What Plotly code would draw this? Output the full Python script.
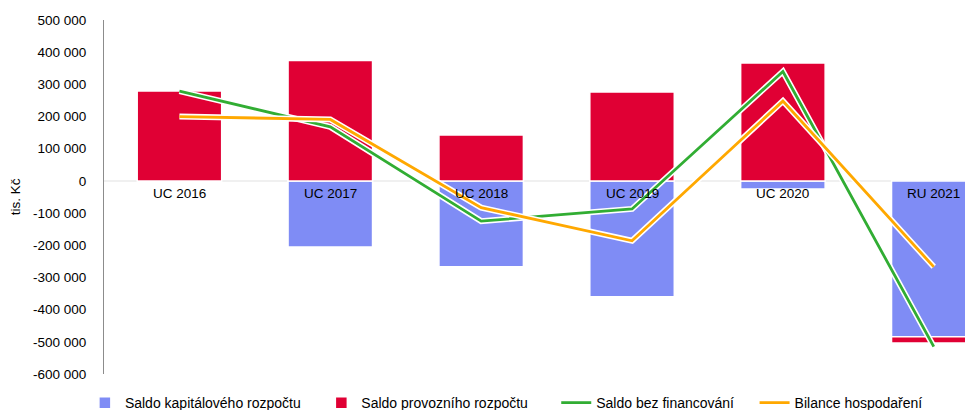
import plotly.graph_objects as go

# hodnoty v tis. Kč
roky = ["UC 2016", "UC 2017", "UC 2018", "UC 2019", "UC 2020", "RU 2021"]
saldo_kapitalove = [0, -205000, -267000, -360000, -25000, -484000]
saldo_provozni = [279000, 374000, 143000, 276000, 366000, -20000]
saldo_bez_fin = [279000, 168000, -125000, -87000, 340000, -515000]
bilance = [200000, 191000, -83000, -186000, 248000, -267000]

y_ticks = [500000, 400000, 300000, 200000, 100000, 0, -100000, -200000,
           -300000, -400000, -500000, -600000]
y_labels = ["500 000", "400 000", "300 000", "200 000", "100 000", "0",
            "-100 000", "-200 000", "-300 000", "-400 000", "-500 000", "-600 000"]

MODRA = "#7f8cf5"
CERVENA = "#e00034"
ZELENA = "#31ad33"
ORANZOVA = "#ffa800"
PAD = "\u00a0" * 4  # trochu místa mezi položkami legendy

fig = go.Figure()

fig.add_trace(go.Bar(x=roky, y=saldo_kapitalove, name="Saldo kapitálového rozpočtu" + PAD,
                     marker=dict(color=MODRA, line=dict(color="white", width=1.5))))
fig.add_trace(go.Bar(x=roky, y=saldo_provozni, name="Saldo provozního rozpočtu" + PAD + "\u00a0\u00a0",
                     marker=dict(color=CERVENA, line=dict(color="white", width=1.5))))

# bílý lem pod čarami
for vals, color, name in [(saldo_bez_fin, ZELENA, "Saldo bez financování" + PAD),
                          (bilance, ORANZOVA, "Bilance hospodaření")]:
    fig.add_trace(go.Scatter(x=roky, y=vals, mode="lines", showlegend=False,
                             hoverinfo="skip", line=dict(color="white", width=6)))
    fig.add_trace(go.Scatter(x=roky, y=vals, mode="lines", name=name,
                             line=dict(color=color, width=2.8)))

# popisky kategorií u nulové osy
for r in roky:
    fig.add_annotation(x=r, y=0, text=r, showarrow=False, yanchor="top", yshift=-3,
                       font=dict(size=13.5, color="black"))

# stránka má okraj 8 px; legenda v originálu přesahuje spodní okraj
fig.update_layout(
    width=965, height=416,
    margin=dict(l=96, r=0, t=12, b=50),
    barmode="relative", bargap=0.44,
    plot_bgcolor="white", paper_bgcolor="white",
    font=dict(family="Liberation Sans, Arial, sans-serif", size=13.5, color="black"),
    showlegend=True,
    legend=dict(orientation="h", x=-0.022, xanchor="left", y=-0.082, yanchor="middle",
                font=dict(size=14), traceorder="normal", itemwidth=30),
    xaxis=dict(range=[-0.5, 5.26], showticklabels=False, showline=False,
               showgrid=False, zeroline=False, fixedrange=True, automargin=False),
    yaxis=dict(range=[-600000, 500000], tickvals=y_ticks, ticktext=y_labels,
               showgrid=False, showline=True, linecolor="#8c8c8c", linewidth=1,
               zeroline=True, zerolinecolor="#f0f0f0", zerolinewidth=2,
               ticks="", ticklabelstandoff=14, automargin=False,
               title=dict(text="tis. Kč", standoff=22, font=dict(size=13.5))),
)

fig.write_html("out.html")
